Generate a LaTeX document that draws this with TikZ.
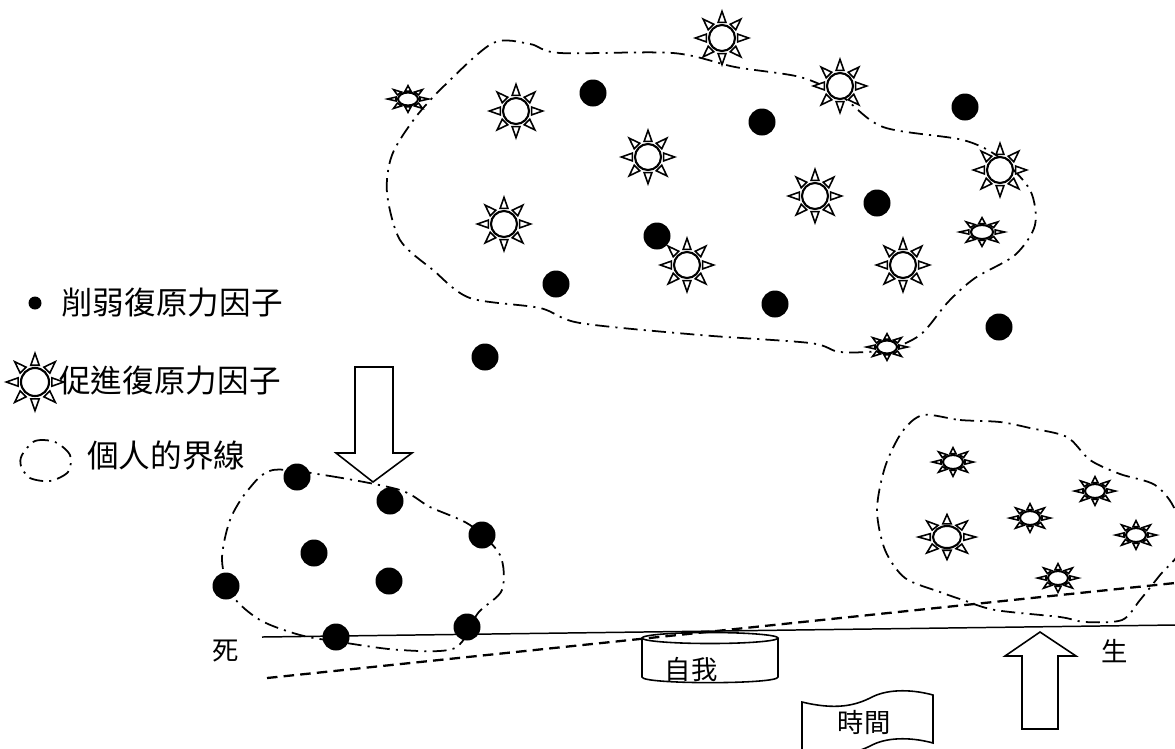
\documentclass[tikz,border=0pt]{standalone}
\usepackage{fontspec}
\setmainfont{Noto Sans CJK TC}
\tikzset{
  boundary/.style={line width=1pt, dash pattern=on 8pt off 3.5pt on 1.2pt off 3.5pt},
  weakfactor/.style={fill=black},
  sunray/.style={draw, fill=white, line width=0.9pt},
  sunbody/.style={draw, fill=white, line width=1.2pt},
  blockarrow/.style={draw, line width=0.9pt},
  legendlabel/.style={anchor=west, inner sep=0pt, font=\fontsize{18}{20}\selectfont},
  plainlabel/.style={inner sep=0pt, font=\fontsize{15}{17}\selectfont},
}
\newcommand{\sunfactor}[4]{% x, y, radius x, radius y
  \begin{scope}[shift={(#1,#2)}, xscale=#3, yscale=#4]
    \foreach \a in {0,45,...,315}
      \draw[sunray] ({1.2*cos(\a)-0.3*sin(\a)},{1.2*sin(\a)+0.3*cos(\a)})
        -- ({2.05*cos(\a)},{2.05*sin(\a)})
        -- ({1.2*cos(\a)+0.3*sin(\a)},{1.2*sin(\a)-0.3*cos(\a)}) -- cycle;
    \draw[sunbody] (0,0) circle (1);
  \end{scope}}

\begin{document}
\begin{tikzpicture}[x=0.02cm, y=-0.02cm]
\useasboundingbox (0,0) rectangle (1175,748);

% boundaries
\draw[boundary] plot[smooth cycle] coordinates {(493,43) (530,44) (560,53) (673,53) (735,67) (800,77)
  (840,95) (883,127) (963,140) (1000,158) (1030,190) (1035,225) (1015,255) (975,278) (948,302)
  (920,335) (885,350) (840,352) (810,343) (700,335) (580,323) (540,308) (470,298) (433,270)
  (400,240) (387,193) (392,155) (415,118) (445,85)}; %big person
\draw[boundary] plot[smooth cycle] coordinates {(273,470) (330,476) (400,490) (430,507) (470,525)
  (500,555) (502,590) (478,613) (455,648) (400,650) (340,642) (300,635) (260,620) (232,595)
  (222,560) (230,520) (248,490)}; %dying person
\draw[boundary] plot[smooth cycle] coordinates {(923,415) (960,420) (1000,422) (1030,428) (1067,437)
  (1090,460) (1120,474) (1155,485) (1175,510) (1180,550) (1160,575) (1140,600) (1122,620)
  (1085,622) (1060,617) (995,610) (963,600) (940,592) (905,578) (885,550) (877,510) (885,467)
  (902,432)}; %living person
\draw[boundary] plot[smooth cycle] coordinates {(22,455) (35,441) (55,442) (70,455) (68,472)
  (50,481) (30,478) (21,466)}; %legend

% lines
\coordinate (deathL) at (262,637);
\coordinate (lifeR) at (1175,625);
\coordinate (slopeL) at (267,678);
\coordinate (slopeR) at (1175,583);
\draw[line width=0.85pt] (deathL) -- (lifeR);
\draw[line width=1.3pt, dash pattern=on 6pt off 3.5pt] (slopeL) -- (slopeR);

% factors
\foreach \x/\y/\rx/\ry in {722/38/13/13, 840/86/13/13, 1000/170/13/13, 516/111/13/13,
  648/157/13/13, 815/196/13/13, 504/224/13/13, 687/265/13/13, 903/265/13/13,
  408/99/10/6.5, 982/232/11/7, 887/347/10/6.5,
  953/462/10/7, 1095/491/10/7, 1030/518/10/7, 947/537/14/11, 1136/535/10/7, 1058/578/10/7,
  35/382/14/14}
  \sunfactor{\x}{\y}{\rx}{\ry};
\foreach \p in {(593,93), (762,122), (965,107), (877,203), (657,236), (556,284), (775,304),
  (999,327), (485,357), (297,477), (390,501), (482,535), (314,553), (389,581), (226,586),
  (336,637), (467,627)}
  \fill[weakfactor] \p circle (13.5);
\fill[weakfactor] (35,303) circle (6.5); %legend dot

% block arrows
\draw[blockarrow] (355,367) -- (393,367) -- (393,453) -- (412,453) -- (373,482) -- (336,453)
  -- (355,453) -- cycle; %down
\draw[blockarrow] (1022,729) -- (1022,656) -- (1005,656) -- (1040,632) -- (1076,656)
  -- (1058,656) -- (1058,729) -- cycle; %up

% self drum
\draw[line width=0.9pt] (642,638) -- (642,677) .. controls (642,684.5) and (778,684.5) .. (778,677)
  -- (778,638);
\draw[line width=0.9pt] (710,638) ellipse (68 and 5.5);
\node[plainlabel] (self) at (691,669) {自我};

% time sheet
\draw[line width=0.9pt] (802,702) .. controls (835,710) and (855,706) .. (872,697)
  .. controls (890,688) and (915,690) .. (933,695) -- (933,743)
  .. controls (915,738) and (890,736) .. (872,745) .. controls (855,754) and (835,758) .. (802,750)
  -- cycle;
\node[plainlabel] (time) at (864,722) {時間};

% labels
\node[plainlabel] (death) at (226,651) {死};
\node[plainlabel] (life) at (1115,651) {生};
\node[legendlabel] (weaklbl) at (61,303) {削弱復原力因子};
\node[legendlabel] (sunlbl) at (59,381) {促進復原力因子};
\node[legendlabel] (borderlbl) at (87,455) {個人的界線};
\end{tikzpicture}
\end{document}
